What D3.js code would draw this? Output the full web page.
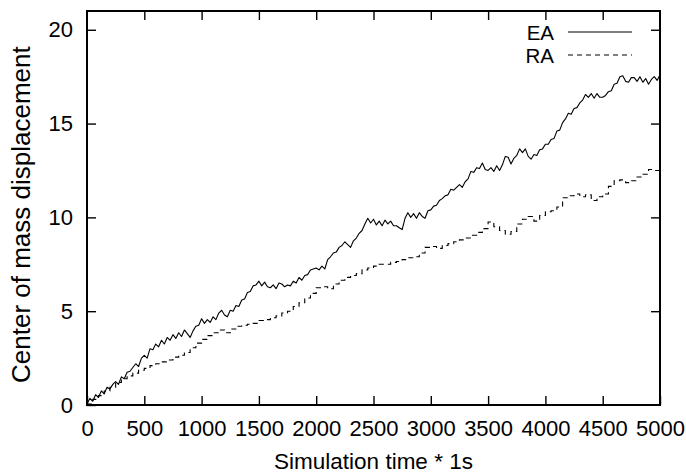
<!DOCTYPE html>
<html>
<head>
<meta charset="utf-8">
<script src="https://cdn.jsdelivr.net/npm/d3@7"></script>
<style>
  body { margin: 0; background: #fff; }
  text { font-family: "Liberation Sans", Arial, sans-serif; fill: #000; }
</style>
</head>
<body>
<div id="chart"></div>
<script>
// samples every 25 time units for EA, every 50 for RA
const eaStep = 25
const raStep = 50

const eaValues = [
  0.05, 0.35, 0.2, 0.55, 0.4, 0.75, 0.6, 0.95, 0.85, 1.1,
  1.25, 1.1, 1.5, 1.4, 1.75, 1.8, 2.0, 2.2, 2.05, 2.5,
  2.65, 2.5, 3.0, 2.95, 3.25, 3.1, 3.45, 3.25, 3.6, 3.45,
  3.75, 3.55, 3.85, 3.65, 4.0, 3.8, 3.6, 3.95, 4.2, 4.25,
  4.6, 4.35, 4.55, 4.4, 4.7, 4.55, 4.9, 5.05, 4.8, 4.7,
  5.05, 5.0, 5.3, 5.25, 5.6, 5.65, 6.0, 6.05, 6.35, 6.4,
  6.6, 6.35, 6.55, 6.3, 6.25, 6.4, 6.2, 6.5, 6.45, 6.3,
  6.4, 6.35, 6.6, 6.5, 6.8, 6.65, 6.9, 6.95, 7.2, 7.25,
  7.3, 7.2, 7.4, 7.25, 7.75, 7.9, 8.1, 8.15, 8.4, 8.5,
  8.7, 8.55, 8.4, 8.75, 8.9, 9.15, 9.3, 9.65, 9.95, 9.7,
  9.9, 9.6, 9.8, 9.55, 9.85, 9.65, 9.8, 9.55, 9.55, 9.45,
  9.35, 9.95, 10.25, 10.0, 10.2, 9.95, 10.25, 10.05, 9.95, 10.35,
  10.4, 10.6, 10.65, 10.9, 11.0, 11.15, 11.2, 11.5, 11.45, 11.6,
  11.75, 11.6, 11.9, 12.05, 12.45, 12.4, 12.65, 12.6, 12.9, 12.55,
  12.5, 12.65, 12.45, 12.75, 12.5, 12.8, 13.25, 13.2, 12.85, 13.15,
  13.3, 13.65, 13.45, 13.65, 13.25, 13.1, 13.35, 13.3, 13.6, 13.65,
  13.9, 13.9, 14.15, 14.2, 14.6, 14.65, 15.05, 15.25, 15.55, 15.5,
  15.8, 15.85, 16.1, 16.25, 16.55, 16.4, 16.6, 16.35, 16.6, 16.4,
  16.4, 16.5, 16.7, 16.75, 17.1, 17.15, 17.5, 17.55, 17.25, 17.2,
  17.45, 17.45, 17.25, 17.5, 17.2, 17.4, 17.1, 17.35, 17.5, 17.3,
  17.6
]

const raValues = [
  0.05, 0.3, 0.5, 0.75, 0.95, 1.2, 1.4, 1.55, 1.7, 1.85,
  1.95, 2.1, 2.2, 2.3, 2.4, 2.55, 2.65, 2.8, 3.05, 3.3,
  3.5, 3.7, 3.85, 4.0, 3.85, 4.05, 4.2, 4.25, 4.3, 4.35,
  4.5, 4.55, 4.65, 4.75, 4.9, 5.0, 5.25, 5.45, 5.7, 5.95,
  6.25, 6.3, 6.2, 6.45, 6.65, 6.8, 6.9, 7.0, 7.2, 7.3,
  7.4, 7.5, 7.5, 7.6, 7.65, 7.75, 7.85, 7.9, 8.1, 8.4,
  8.45, 8.35, 8.5, 8.6, 8.7, 8.8, 8.9, 9.05, 9.2, 9.4,
  9.75, 9.5, 9.3, 9.1, 9.25, 9.65, 9.9, 10.05, 9.8, 10.1,
  10.3, 10.35, 10.55, 11.05, 11.15, 11.25, 11.1, 11.2, 10.9, 11.1,
  11.25, 11.65, 11.95, 12.0, 11.85, 11.95, 12.15, 12.3, 12.55, 12.5,
  12.65
]

const xTicks = [0, 500, 1000, 1500, 2000, 2500, 3000, 3500, 4000, 4500, 5000]
const yTicks = [0, 5, 10, 15, 20]
const seriesNames = ['EA', 'RA']

const W = 686, H = 473
const m = {t: 11, r: 26, b: 68, l: 87}
const w = W - m.l - m.r, h = H - m.t - m.b
const fontSize = '22px'

const svg = d3.select('#chart').append('svg')
    .attr('width', W).attr('height', H)
const g = svg.append('g')
    .attr('transform', 'translate(' + m.l + ',' + m.t + ')')

const x = d3.scaleLinear().domain([0, 5000]).range([0, w])
const y = d3.scaleLinear().domain([0, 21]).range([h, 0])

const tickLen = 9

// inward ticks on all four sides, like gnuplot
g.append('g').attr('transform', 'translate(0,' + h + ')')
    .call(d3.axisBottom(x).tickValues(xTicks).tickFormat(d3.format('d'))
        .tickSizeInner(-tickLen).tickSizeOuter(0).tickPadding(15))
g.append('g')
    .call(d3.axisTop(x).tickValues(xTicks.slice(1, -1)).tickSizeInner(-tickLen).tickSizeOuter(0).tickFormat(''))
g.append('g')
    .call(d3.axisLeft(y).tickValues(yTicks).tickSizeInner(-tickLen).tickSizeOuter(0).tickPadding(14))
g.append('g').attr('transform', 'translate(' + w + ',0)')
    .call(d3.axisRight(y).tickValues(yTicks.slice(1)).tickSizeInner(-tickLen).tickSizeOuter(0).tickFormat(''))

g.selectAll('.domain').remove()
g.selectAll('.tick line').attr('stroke', '#000').attr('stroke-width', 1.4)
g.selectAll('.tick text')
    .style('font-family', '"Liberation Sans", Arial, sans-serif')
    .style('font-size', fontSize).attr('fill', '#000')

g.append('defs').append('clipPath').attr('id', 'clip')
  .append('rect').attr('width', w).attr('height', h)

const eaLine = d3.line()
    .x((d, i) => x(i * eaStep))
    .y(d => y(d))
const raLine = d3.line()
    .curve(d3.curveStepAfter)
    .x((d, i) => x(i * raStep))
    .y(d => y(d))

g.append('path').datum(raValues)
    .attr('clip-path', 'url(#clip)')
    .attr('d', raLine)
    .attr('fill', 'none').attr('stroke', '#000')
    .attr('stroke-width', 1.1).attr('stroke-dasharray', '5,4')

g.append('path').datum(eaValues)
    .attr('clip-path', 'url(#clip)')
    .attr('d', eaLine)
    .attr('fill', 'none').attr('stroke', '#000')
    .attr('stroke-width', 1.1).attr('stroke-linejoin', 'round')

// frame
g.append('rect').attr('width', w).attr('height', h)
    .attr('fill', 'none').attr('stroke', '#000').attr('stroke-width', 2)

// legend
const legend = g.selectAll('.leg').data(seriesNames).enter()
    .append('g').attr('class', 'leg')
    .attr('transform', (d, i) => 'translate(0,' + (21 + i * 23) + ')')
legend.append('text')
    .attr('x', 467).attr('y', 7.5)
    .attr('text-anchor', 'end')
    .style('font-size', '20.5px')
    .text(d => d)
legend.append('line')
    .attr('x1', 481).attr('x2', 545).attr('y1', 0).attr('y2', 0)
    .attr('stroke', '#000').attr('stroke-width', 1.1)
    .attr('stroke-dasharray', d => d === 'RA' ? '5,4' : null)

// axis titles
svg.append('text')
    .attr('x', m.l + w / 2).attr('y', 469)
    .attr('text-anchor', 'middle')
    .style('font-size', '22.5px')
    .text('Simulation time * 1s')
svg.append('text')
    .attr('transform', 'translate(30,383) rotate(-90)')
    .attr('text-anchor', 'start')
    .style('font-size', '26px')
    .text('Center of mass displacement')
</script>
</body>
</html>
